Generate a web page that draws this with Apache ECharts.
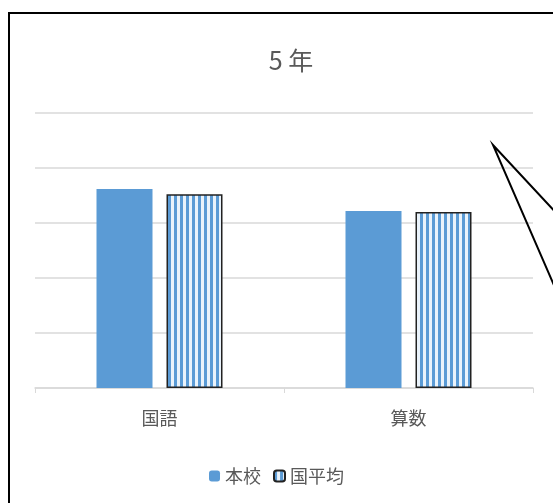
<!DOCTYPE html>
<html>
<head>
<meta charset="utf-8">
<script src="https://cdn.jsdelivr.net/npm/echarts@6/dist/echarts.min.js"></script>
<style>
html,body{margin:0;padding:0;background:#fff;}
#chart{width:553px;height:503px;}
</style>
</head>
<body>
<div id="chart"></div>
<script>
var titleText = '5 年';
var categories = ['国語', '算数'];
var seriesNames = ['本校', '国平均'];
var schoolValues = [72.4, 64.4];
var nationalValues = [70.5, 64.0];
var yTicks = [0, 20, 40, 60, 80, 100];

var BLUE = '#5B9BD5';
var TEXT = '#595959';
var FONT = '"Noto Sans CJK JP", "Noto Sans", sans-serif';

function makeStripe() {
  var c = document.createElement('canvas');
  c.width = 6; c.height = 10;
  var ctx = c.getContext('2d');
  ctx.fillStyle = '#EAF3FB';
  ctx.fillRect(0, 0, 6, 10);
  ctx.fillStyle = BLUE;
  ctx.fillRect(0, 0, 3, 10);
  return c;
}
var stripe = { image: makeStripe(), repeat: 'repeat' };

var chart = echarts.init(document.getElementById('chart'), null, { renderer: 'canvas' });
chart.setOption({
  backgroundColor: '#fff',
  animation: false,
  title: {
    text: titleText,
    left: 286,
    textAlign: 'center',
    top: 43,
    textStyle: { color: TEXT, fontSize: 25, fontWeight: 'normal', fontFamily: FONT }
  },
  legend: {
    data: seriesNames,
    left: 'center',
    top: 462,
    itemWidth: 11,
    itemHeight: 11,
    itemGap: 12,
    textStyle: { color: TEXT, fontSize: 18, fontFamily: FONT }
  },
  grid: { left: 35, right: 20, top: 113, bottom: 115, containLabel: false },
  xAxis: {
    type: 'category',
    data: categories,
    axisLine: { lineStyle: { color: '#D9D9D9', width: 1.5 } },
    axisTick: { show: true, length: 5, lineStyle: { color: '#D9D9D9' } },
    axisLabel: { color: TEXT, fontSize: 18, margin: 21, fontFamily: FONT }
  },
  yAxis: {
    type: 'value',
    min: yTicks[0],
    max: yTicks[yTicks.length - 1],
    interval: yTicks[1] - yTicks[0],
    axisLabel: { show: false },
    axisLine: { show: false },
    axisTick: { show: false },
    splitLine: { lineStyle: { color: '#D9D9D9', width: 1.5 } }
  },
  series: [
    {
      name: seriesNames[0],
      type: 'bar',
      data: schoolValues,
      barWidth: 56,
      barGap: '25%',
      itemStyle: { color: BLUE }
    },
    {
      name: seriesNames[1],
      type: 'bar',
      data: nationalValues,
      barWidth: 56,
      itemStyle: { color: stripe, borderColor: '#222', borderWidth: 1.5 }
    }
  ],
  graphic: [
    {
      type: 'rect',
      shape: { x: 9, y: 13, width: 600, height: 600 },
      style: { fill: 'none', stroke: '#000', lineWidth: 2 },
      z: 100
    },
    {
      type: 'polyline',
      shape: { points: [[560, 217], [493, 145], [560, 299]] },
      style: { fill: 'none', stroke: '#000', lineWidth: 2 },
      z: 100
    }
  ]
});
</script>
</body>
</html>
